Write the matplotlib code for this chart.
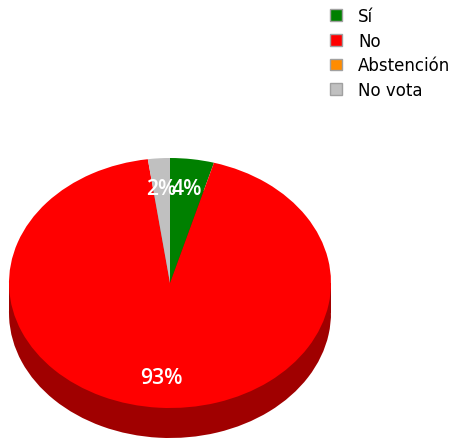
import matplotlib
matplotlib.use('Agg')
import matplotlib.pyplot as plt
from matplotlib.patches import Patch

categories = ['Sí', 'No', 'Abstención', 'No vota']
values = [4.4, 93.4, 0.0, 2.2]
colors = ['#008000', '#ff0000', '#ff8c00', '#c0c0c0']
side_colors = ['#005000', '#a00000', '#a05800', '#787878']

W, H = 458, 439
cx, cy, rx, ry, depth = 170, 284, 161, 125, 30

fig = plt.figure(figsize=(W / 100, H / 100), dpi=100)
ax = fig.add_axes([0, 0, 1, 1])


def label(p):
    return f'{int(p)}%' if p >= 1 else ''


d = depth / ry
ax.fill_between([-1, 1], [0, 0], [-d, -d], color=side_colors[1], lw=0, zorder=0)
ax.pie(values, colors=side_colors, startangle=90, counterclock=False, center=(0, -d),
       radius=1, wedgeprops=dict(lw=0, zorder=0.5))
wedges, _, autotexts = ax.pie(values, colors=colors, startangle=90, counterclock=False,
                              radius=1, autopct=label, pctdistance=0.76,
                              wedgeprops=dict(lw=0, zorder=1),
                              textprops=dict(color='white', family='Open Sans', fontsize=15.3,
                                             weight='semibold', zorder=3))

ax.set_aspect('auto')
ax.set_xlim(-cx / rx, (W - cx) / rx)
ax.set_ylim((cy - H) / ry, cy / ry)
ax.axis('off')

handles = [Patch(facecolor=c, edgecolor='#a0a0a0', lw=1) for c in colors]
fig.legend(handles, categories, loc='upper left', bbox_to_anchor=(322.5 / W, 1 - 0.5 / H),
           frameon=False, prop=dict(family='DejaVu Sans', size=12),
           handlelength=0.72, handleheight=0.72, handletextpad=0.96,
           labelspacing=0.4, borderpad=0.45, borderaxespad=0)

fig.savefig('out.png', dpi=100)
